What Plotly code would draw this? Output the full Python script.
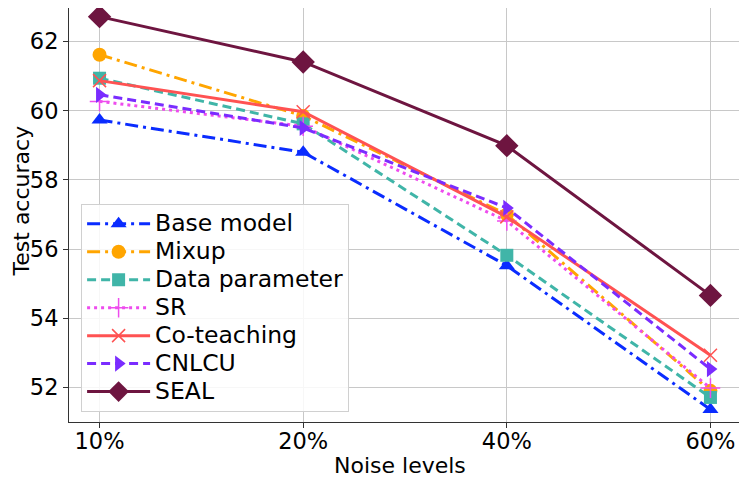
import plotly.graph_objects as go

noise_levels = ["10%", "20%", "40%", "60%"]

base_model = [59.73, 58.80, 55.52, 51.36]
mixup = [61.62, 59.85, 57.00, 51.90]
data_parameter = [60.94, 59.62, 55.82, 51.71]
sr = [60.27, 59.55, 56.81, 51.98]
co_teaching = [60.87, 59.97, 56.93, 52.93]
cnlcu = [60.46, 59.50, 57.19, 52.53]
seal = [62.72, 61.41, 58.99, 54.66]

series = [
    ("Base model", base_model, "#0a2cff", "13px,5px,3px,5px", "triangle-up", 14),
    ("Mixup", mixup, "#ffa500", "13px,5px,3px,5px", "circle", 14),
    ("Data parameter", data_parameter, "#40b5a8", "9px,5px", "square", 13),
    ("SR", sr, "#ee4cee", "3px,4px", "cross-thin", 14),
    ("Co-teaching", co_teaching, "#ff5252", "solid", "x-thin", 13),
    ("CNLCU", cnlcu, "#7a2cff", "9px,5px", "triangle-right", 14),
    ("SEAL", seal, "#6e1540", "solid", "diamond", 18),
]

fig = go.Figure()
for i, (name, vals, color, dash, sym, size) in enumerate(series):
    thin = sym.endswith("thin")
    fig.add_trace(go.Scatter(
        x=noise_levels, y=vals,
        name=f"<span style='font-size:23.5px'>{name}</span>",
        mode="lines+markers",
        line=dict(color=color, width=3, dash=dash),
        marker=dict(symbol=sym, size=size, color=color,
                    line=dict(color=color, width=1.5 if thin else 0)),
    ))

fig.update_layout(
    width=747, height=486,
    margin=dict(l=61, r=14, t=0, b=72),
    paper_bgcolor="white", plot_bgcolor="white",
    font=dict(family="DejaVu Sans", size=22, color="black"),
    showlegend=True,
    legend=dict(
        x=0.018, y=0.527, xanchor="left", yanchor="top",
        bgcolor="rgba(255,255,255,0.85)", bordercolor="#d0d0d0", borderwidth=1,
        font=dict(size=19.2), itemwidth=63,
    ),
    xaxis=dict(
        type="category", range=[-0.15, 3.15], automargin=False,
        showgrid=True, gridcolor="#c8c8c8", gridwidth=1,
        showline=True, linecolor="#333", linewidth=1, mirror=True,
        ticks="outside", ticklen=5, tickcolor="#333",
        tickfont=dict(size=22.5), ticklabelstandoff=-6,
    ),
    yaxis=dict(
        range=[51.0, 62.97], tickvals=[52, 54, 56, 58, 60, 62], automargin=False,
        showgrid=True, gridcolor="#c8c8c8", gridwidth=1, zeroline=False,
        showline=True, linecolor="#333", linewidth=1, mirror=True,
        ticks="outside", ticklen=5, tickcolor="#333",
        tickfont=dict(size=22.5),
    ),
    annotations=[
        dict(text="Noise levels", xref="paper", yref="paper", x=0.4926, y=-0.106,
             xanchor="center", yanchor="middle", showarrow=False, font=dict(size=22)),
        dict(text="Test accuracy", xref="paper", yref="paper", x=-61 / 672, y=0.534,
             xanchor="left", yanchor="middle", textangle=-90, showarrow=False,
             borderpad=0, font=dict(size=22)),
    ],
)

fig.write_html("out.html")
